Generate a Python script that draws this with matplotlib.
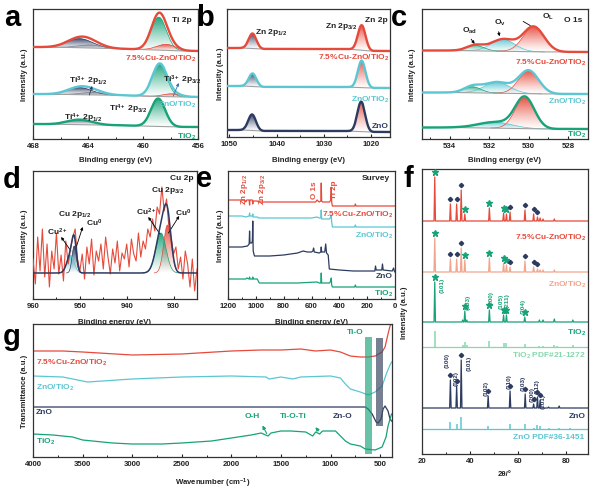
import numpy as np
import matplotlib
matplotlib.use("Agg")
import matplotlib.pyplot as plt
from matplotlib.ticker import MultipleLocator
from matplotlib.colors import to_rgb
from matplotlib.patches import Rectangle

plt.rcParams.update({
    'font.family': ['Liberation Sans', 'DejaVu Sans'],
    'font.weight': 'bold',
    'mathtext.fontset': 'custom',
    'mathtext.rm': 'Liberation Sans:bold',
    'mathtext.it': 'Liberation Sans:bold',
    'mathtext.bf': 'Liberation Sans:bold',
    'mathtext.sf': 'Liberation Sans:bold',
    'mathtext.default': 'rm',
    'axes.linewidth': 0.9,
    'axes.edgecolor': '#333333',
})

# ---------------------------------------------------------------- data
# (a) Ti 2p  -- samples bottom -> top
TI_SAMPLES = ['TiO$_2$', 'ZnO/TiO$_2$', '7.5%Cu-ZnO/TiO$_2$']
TI_BG_X = [468, 465, 461, 459, 457, 456]
TI_BG = [[15, 14.5, 13.5, 12.5, 12, 12],
         [45, 44.5, 43.5, 42.5, 42, 42],
         [92, 91.5, 90, 89, 88, 88]]
TI_COMPONENTS = ['Ti4+ 2p3/2', 'Ti3+ 2p3/2', 'Ti4+ 2p1/2', 'Ti3+ 2p1/2']
TI_CENTERS = [[458.9, 458.0, 464.6, 463.7],
              [458.8, 457.9, 464.6, 463.6],
              [458.85, 458.3, 464.6, 463.8]]
TI_HEIGHTS = [[28, 0, 5, 0],
              [32, 3, 7, 2.5],
              [33, 6, 9, 3]]
TI_FWHM = [[1.2, 1.5, 2.1, 2.0],
           [1.25, 1.5, 2.1, 2.0],
           [1.3, 1.6, 2.2, 2.0]]

# (b) Zn 2p
ZN_SAMPLES = ['ZnO', 'ZnO/TiO$_2$', '7.5%Cu-ZnO/TiO$_2$']
ZN_BG_X = [1050.5, 1047, 1043, 1025, 1020, 1016]
ZN_BG = [[7, 7, 6, 6, 5, 5],
         [51, 51, 50, 50, 49, 49],
         [89, 89, 88, 88, 86, 86]]
ZN_COMPONENTS = ['Zn 2p1/2', 'Zn 2p3/2']
ZN_CENTERS = [[1045.2, 1022.1], [1045.1, 1022.0], [1045.1, 1022.0]]
ZN_HEIGHTS = [[16, 30], [13, 27], [15, 25]]
ZN_FWHM = [[1.9, 1.9], [1.9, 1.9], [1.9, 1.9]]

# (c) O 1s
O_SAMPLES = ['TiO$_2$', 'ZnO/TiO$_2$', '7.5%Cu-ZnO/TiO$_2$']
O_BG_X = [535.4, 533.5, 532, 530.5, 529, 527]
O_BG = [[11.5, 11.5, 11, 10.5, 10, 10],
        [46.5, 46.5, 46, 45.5, 45, 45],
        [88.5, 88.5, 88, 87.5, 87, 87]]
O_COMPONENTS = ['O_L', 'O_v', 'O_ad']
O_CENTERS = [[530.2, 531.7, 532.9], [530.0, 531.6, 532.85], [529.75, 531.3, 532.7]]
O_HEIGHTS = [[31, 6, 0], [23, 11, 6], [25, 12, 5.5]]
O_FWHM = [[1.15, 2.0, 1.0], [1.2, 1.5, 1.0], [1.25, 1.4, 1.0]]

# (d) Cu 2p (raw counts, 960 -> 925 eV, 0.5 eV step) and fit
CU_BE_START, CU_BE_STEP = 960.0, -0.5
CU_COUNTS = [40, 15, 62, 28, 70, 22, 55, 12, 48, 30,
             66, 25, 44, 18, 58, 35, 50, 62, 70, 40,
             28, 45, 20, 52, 35, 60, 24, 48, 38, 55,
             30, 62, 42, 25, 50, 36, 58, 28, 46, 40,
             55, 32, 60, 45, 38, 66, 42, 58, 50, 70,
             62, 80, 68, 92, 85, 112, 88, 100, 72, 60,
             45, 52, 30, 42, 20, 48, 35, 12, 40, 8,
             30]
CU_BG = 26
CU_COMPONENTS = ['Cu0 2p3/2', 'Cu2+ 2p3/2', 'Cu0 2p1/2', 'Cu2+ 2p1/2']
CU_CENTERS = [931.3, 932.7, 951.2, 952.0]
CU_HEIGHTS = [48, 40, 27, 18]
CU_FWHM = [1.9, 2.6, 1.1, 1.8]

# (e) survey spectra (binding energy, intensity)
SV_CU_X = [1200, 1100, 1080, 1072, 1065, 1048, 1045, 1042, 1025, 1022, 1019, 990, 980, 700, 600, 570,
           560, 545, 533, 530, 527, 520, 470, 462, 458, 455, 450, 400, 290, 285, 280, 100, 0]
SV_CU_Y = [99, 99, 99, 97, 99, 99, 94, 99, 99, 95, 98, 98, 97, 97, 97, 97,
           99, 97, 98, 116, 98, 97, 97, 99, 111, 97, 93, 93, 93, 95, 93, 93, 93]
SV_ZT_X = [1200, 1100, 1072, 1048, 1045, 1042, 1025, 1022, 1019, 990, 980, 600, 560, 545, 533, 530,
           527, 470, 462, 458, 455, 450, 290, 285, 280, 0]
SV_ZT_Y = [83, 83, 82, 83, 86, 83, 83, 85, 82, 82, 81, 81, 82, 81, 81, 89,
           80, 80, 82, 84, 77, 72, 72, 74, 72, 72]
SV_ZNO_X = [1200, 1100, 1060, 1048, 1045, 1042, 1030, 1025, 1022, 1019, 1010, 900, 800, 700, 660, 630,
            600, 590, 585, 580, 545, 533, 530, 527, 505, 498, 492, 480, 472, 400, 300, 200, 145,
            140, 135, 95, 90, 85, 20, 10, 5, 0]
SV_ZNO_Y = [52, 52, 53, 55, 68, 56, 56, 58, 78, 48, 43, 43, 44, 46, 48, 47,
            47, 48, 51, 47, 46, 47, 52, 47, 47, 55, 46, 44, 30, 29, 28, 28, 28,
            33, 29, 29, 35, 29, 28, 31, 28, 27]
SV_TIO2_X = [1200, 1100, 1072, 1065, 1048, 1045, 1042, 1025, 1022, 1019, 990, 975, 700, 560, 545, 533,
             530, 527, 470, 462, 458, 455, 450, 290, 285, 280, 0]
SV_TIO2_Y = [20, 20, 20, 21, 20, 22, 20, 20, 22, 20, 20, 16, 16, 17, 16, 16,
             26, 16, 16, 18, 21, 14, 12, 12, 14, 12, 12]

# (f) XRD peak positions (2theta) and heights
XRD_CU_POS = [25.3, 31.8, 34.4, 36.3, 37.8, 48.0, 53.9, 55.1, 56.6, 62.8, 66.4, 68.0, 69.1, 70.3, 75.0]
XRD_CU_H = [44, 17, 17, 31, 7, 13, 8, 7, 9, 11, 7, 4, 3, 2, 2]
XRD_ZT_POS = [25.3, 31.8, 34.4, 36.3, 37.8, 48.0, 53.9, 55.1, 56.6, 62.8, 66.4, 68.0, 69.1, 70.3, 75.0]
XRD_ZT_H = [34, 13, 13, 24, 12, 14, 9, 7, 5, 11, 5, 3, 2, 2, 2]
XRD_TIO2_POS = [25.3, 36.9, 37.8, 38.6, 48.0, 53.9, 55.1, 62.7, 68.8, 70.3, 75.0, 82.7]
XRD_TIO2_H = [40, 2, 11, 2, 12, 7, 7, 5, 2, 2, 3, 2]
PDF_TIO2_POS = [25.3, 36.9, 37.8, 38.6, 48.0, 53.9, 55.1, 62.7, 68.8, 70.3, 75.0, 76.0, 82.7]
PDF_TIO2_H = [16, 2, 5, 2, 6, 4, 4, 3, 1.5, 1.5, 2, 1, 2]
XRD_ZNO_POS = [31.8, 34.4, 36.3, 47.5, 56.6, 62.9, 66.4, 68.0, 69.1, 72.6, 77.0]
XRD_ZNO_H = [28, 22, 48, 12, 17, 14, 4, 11, 8, 1, 2]
PDF_ZNO_POS = [31.8, 34.4, 36.3, 47.5, 56.6, 62.9, 66.4, 68.0, 69.1, 72.6, 77.0, 81.4, 89.6]
PDF_ZNO_H = [7, 5, 12, 3, 5, 5, 1, 4, 3, 1, 1, 1, 1]
ANATASE_MARKS = [25.3, 37.8, 48.0, 53.9, 55.1]
ZNO_MARKS = [31.8, 34.4, 36.3, 56.6, 62.8, 66.4, 68.0]
TIO2_STARS = [25.3, 37.8, 48.0, 53.9, 55.1, 62.7]
TIO2_HKL = ['(101)', '(103)', '(200)', '(105)', '(211)', '(204)']
TIO2_HKL_X = [28.3, 39.2, 48.8, 52.7, 55.4, 62.2]
TIO2_HKL_Y = [170, 153, 157, 154, 154, 149]
ZNO_DIAMONDS = [31.8, 34.4, 36.3, 47.5, 56.6, 62.9, 66.4, 68.0, 69.1]
ZNO_HKL = ['(100)', '(002)', '(101)', '(102)', '(110)', '(103)', '(200)', '(112)', '(201)']
ZNO_HKL_X = [30.4, 34.2, 39.6, 46.7, 56.3, 62.1, 65.8, 67.9, 70.4]
ZNO_HKL_Y = [95, 76, 92, 67, 73, 72, 60, 68, 54]

# (g) FTIR (wavenumber, transmittance)
IR_CU_X = [4000, 3700, 3500, 3000, 2500, 2000, 1700, 1500, 1300, 1150, 1000, 900, 800, 700, 620, 550,
           480, 450, 420, 400, 385]
IR_CU_Y = [106, 106, 105, 102, 103, 106, 107, 107, 108, 106, 107, 105, 101, 100, 100, 101,
           105, 110, 123, 131, 133]
IR_ZT_X = [4000, 3700, 3600, 3450, 3000, 2500, 2000, 1650, 1620, 1500, 1380, 1300, 1000, 900, 850, 800,
           700, 620, 550, 480, 430, 400, 385]
IR_ZT_Y = [81, 80, 78, 75, 78, 80, 81, 80, 78, 80, 78, 80, 81, 79, 73, 68,
           65, 62, 65, 71, 85, 92, 95]
IR_ZNO_X = [4000, 3000, 2000, 1000, 650, 620, 580, 540, 520, 490, 470, 450, 420, 400, 385]
IR_ZNO_Y = [50, 50, 50, 50, 50, 48, 43, 35, 34, 38, 48, 51, 46, 38, 36]
IR_TIO2_X = [4000, 3800, 3600, 3500, 3200, 3000, 2700, 2500, 2200, 2000, 1800, 1700, 1630, 1600, 1500,
             1400, 1250, 1180, 1150, 1110, 1080, 1000, 950, 900, 850, 800, 700, 650, 550, 480, 440,
             420, 400, 385]
IR_TIO2_Y = [23, 22, 20, 17, 14, 13, 13, 14, 16, 19, 22, 24, 21, 24, 26,
             26, 25, 21, 25, 23, 26, 26, 26, 21, 16, 13, 11, 8, 7, 10, 20,
             31, 38, 43]
IR_BANDS = {'Ti-O': (650, 580), 'Zn-O': (540, 470)}

# ---------------------------------------------------------------- style
RED = '#e64a3b'
CYAN = '#5cc6d2'
NAVY = '#2d3b60'
GREEN = '#17a278'
SALMON = '#f2a58c'
LGREEN = '#86d8ae'
GRAY = '#a0a0a0'
DARKGRAY = '#7d8594'

W, H = 591, 489
BOX = {'a': (33, 10, 198, 140), 'b': (227, 10, 390, 138), 'c': (422, 10, 588, 140),
       'd': (33, 172, 197, 300), 'e': (228, 172, 395, 300), 'f': (422, 170, 588, 455),
       'g': (33, 325, 392, 458)}

fig = plt.figure(figsize=(W / 100, H / 100), dpi=100)


def make_ax(k, xlim, major, minor):
    l, t, r, b = BOX[k]
    ax = fig.add_axes([l / W, 1 - b / H, (r - l) / W, (b - t) / H])
    ax.set_ylim(0, b - t)
    ax.set_xlim(*xlim)
    ax.set_yticks([])
    ax.xaxis.set_major_locator(MultipleLocator(major))
    ax.xaxis.set_minor_locator(MultipleLocator(minor))
    ax.tick_params(axis='x', which='major', direction='in', length=2.5, width=0.8,
                   labelsize=5.6, pad=2.5, colors='#222222')
    ax.tick_params(axis='x', which='minor', direction='in', length=1.6, width=0.6)
    for lab in ax.get_xticklabels():
        lab.set_fontweight('bold')
    return ax


def P(k, px, py):
    l, t, r, b = BOX[k]
    return ((px - l) / (r - l), (b - py) / (b - t))


def txt(ax, k, px, py, s, color='#222222', size=6.0, ha='center', va='center', **kw):
    ax.text(*P(k, px, py), s, transform=ax.transAxes, color=color, fontsize=size,
            fontweight='bold', ha=ha, va=va, **kw)


def labels(ax, k, xl, xl_py, yl, yl_px):
    l, t, r, b = BOX[k]
    txt(ax, k, (l + r) / 2, xl_py, xl, size=5.6, clip_on=False)
    txt(ax, k, yl_px, (t + b) / 2, yl, size=5.6, rotation=90, clip_on=False)


def gauss(x, c, h, w):
    return h * np.exp(-4 * np.log(2) * (x - c) ** 2 / w ** 2)


def grad_fill(ax, x, y0, y1, color, z, amax=0.95):
    d = y1 - y0
    m = d > 2e-3 * d.max()
    xs, a, b = x[m], y0[m], y1[m]
    poly = ax.fill_between(xs, a, b, facecolor='none', edgecolor='none', zorder=z)
    n = 256
    arr = np.ones((n, 2, 4))
    arr[..., :3] = to_rgb(color)
    arr[..., 3] = (np.linspace(0, 1, n) ** 1.2 * amax)[:, None]
    im = ax.imshow(arr, extent=[xs.min(), xs.max(), a.min(), b.max()], origin='lower',
                   aspect='auto', zorder=z, interpolation='bilinear')
    im.set_clip_path(poly.get_paths()[0], transform=ax.transData)
    ax.plot(xs, b, color=color, lw=0.5, zorder=z + 0.1)


def xps_panel(ax, xlim, bg_x, bgs, centers, heights, fwhms, comp_colors, line_colors):
    lo, hi = min(xlim), max(xlim)
    x = np.linspace(lo, hi, 900)
    for i in range(len(bgs)):
        bg = np.interp(x, bg_x[::-1], bgs[i][::-1])
        total = bg.copy()
        for j in range(len(centers[i])):
            if heights[i][j] <= 0:
                continue
            comp = gauss(x, centers[i][j], heights[i][j], fwhms[i][j])
            grad_fill(ax, x, bg, bg + comp, comp_colors[j], 2)
            total = total + comp
        ax.plot(x, bg, color=GRAY, lw=0.8, zorder=2.6)
        ax.plot(x, total, color=line_colors[i], lw=1.7, zorder=3)
    ax.set_xlim(*xlim)
    ax.set_ylim(0, BOX_H(ax))


def BOX_H(ax):
    return ax._boxh


def arrow(ax, xy_from, xy_to, color='black', lw=0.6):
    ax.annotate('', xy=xy_to, xytext=xy_from,
                arrowprops=dict(arrowstyle='-|>', color=color, lw=lw,
                                mutation_scale=4, shrinkA=0, shrinkB=0))


# ---------------------------------------------------------------- (a)
ax = make_ax('a', (468, 456), 4, 2)
ax._boxh = 130
xps_panel(ax, (468, 456), TI_BG_X, TI_BG, TI_CENTERS, TI_HEIGHTS, TI_FWHM,
          [GREEN, RED, NAVY, DARKGRAY], [GREEN, CYAN, RED])
txt(ax, 'a', 182, 20, 'Ti 2p')
txt(ax, 'a', 196, 59, TI_SAMPLES[2], RED, ha='right')
txt(ax, 'a', 196, 105, TI_SAMPLES[1], CYAN, ha='right')
txt(ax, 'a', 196, 137, TI_SAMPLES[0], GREEN, ha='right')
txt(ax, 'a', 88, 81, 'Ti$^{3+}$ 2p$_{1/2}$')
txt(ax, 'a', 182, 80, 'Ti$^{3+}$ 2p$_{3/2}$')
txt(ax, 'a', 128, 109, 'Ti$^{4+}$ 2p$_{3/2}$')
txt(ax, 'a', 83, 118, 'Ti$^{4+}$ 2p$_{1/2}$')
arrow(ax, (463.9, 44), (463.7, 53), color=NAVY)
arrow(ax, (457.8, 43), (457.4, 56), color='#3a6fb0')
labels(ax, 'a', 'Binding energy (eV)', 161, 'Intensity (a.u.)', 25)

# ---------------------------------------------------------------- (b)
ax = make_ax('b', (1050.5, 1016), 10, 5)
ax._boxh = 128
xps_panel(ax, (1050.5, 1016), ZN_BG_X, ZN_BG, ZN_CENTERS, ZN_HEIGHTS, ZN_FWHM,
          [NAVY, RED], [NAVY, CYAN, RED])
txt(ax, 'b', 388, 20, 'Zn 2p', ha='right')
txt(ax, 'b', 341, 27, 'Zn 2p$_{3/2}$')
txt(ax, 'b', 271, 32, 'Zn 2p$_{1/2}$')
txt(ax, 'b', 389, 58, ZN_SAMPLES[2], RED, ha='right')
txt(ax, 'b', 389, 100, ZN_SAMPLES[1], CYAN, ha='right')
txt(ax, 'b', 389, 127, ZN_SAMPLES[0], NAVY, ha='right')
labels(ax, 'b', 'Binding energy (eV)', 161, 'Intensity (a.u.)', 220)

# ---------------------------------------------------------------- (c)
ax = make_ax('c', (535.4, 527.0), 2, 1)
ax._boxh = 130
xps_panel(ax, (535.4, 527.0), O_BG_X, O_BG, O_CENTERS, O_HEIGHTS, O_FWHM,
          [RED, CYAN, GREEN], [GREEN, CYAN, RED])
txt(ax, 'c', 582, 20, 'O 1s', ha='right')
txt(ax, 'c', 548, 17, 'O$_L$')
txt(ax, 'c', 500, 23, 'O$_v$')
txt(ax, 'c', 470, 31, 'O$_{ad}$')
ax.annotate('', xy=(529.8, 112), xytext=(530.4, 119),
            arrowprops=dict(arrowstyle='-', color='black', lw=0.6))
ax.annotate('', xy=(531.45, 100), xytext=(531.55, 110),
            arrowprops=dict(arrowstyle='-|>', color='black', lw=0.6, mutation_scale=4))
ax.annotate('', xy=(532.65, 93), xytext=(533.0, 102),
            arrowprops=dict(arrowstyle='-|>', color='black', lw=0.6, mutation_scale=4))
txt(ax, 'c', 586, 63, O_SAMPLES[2], RED, ha='right')
txt(ax, 'c', 586, 102, O_SAMPLES[1], CYAN, ha='right')
txt(ax, 'c', 586, 135, O_SAMPLES[0], GREEN, ha='right')
labels(ax, 'c', 'Binding energy (eV)', 161, 'Intensity (a.u.)', 413)

# ---------------------------------------------------------------- (d)
ax = make_ax('d', (960, 925), 10, 5)
cu_x = CU_BE_START + CU_BE_STEP * np.arange(len(CU_COUNTS))
x = np.linspace(925, 960, 900)
bg = np.full_like(x, CU_BG)
env = bg.copy()
for c, h, w, col in zip(CU_CENTERS, CU_HEIGHTS, CU_FWHM, [RED, GREEN, NAVY, CYAN]):
    comp = gauss(x, c, h, w)
    grad_fill(ax, x, bg, bg + comp, col, 2)
    env = env + comp
ax.plot(cu_x, CU_COUNTS, color=RED, lw=0.8, zorder=3)
ax.plot(x, env, color=NAVY, lw=1.1, zorder=4)
ax.set_xlim(960, 925)
ax.set_ylim(0, 128)
txt(ax, 'd', 194, 178, 'Cu 2p', ha='right')
txt(ax, 'd', 168, 190, 'Cu 2p$_{3/2}$')
txt(ax, 'd', 75, 215, 'Cu 2p$_{1/2}$')
txt(ax, 'd', 57, 232, 'Cu$^{2+}$')
txt(ax, 'd', 94, 223, 'Cu$^{0}$')
txt(ax, 'd', 146, 212, 'Cu$^{2+}$')
txt(ax, 'd', 183, 213, 'Cu$^{0}$')
arrow(ax, (951.9, 48), (954.0, 62))
arrow(ax, (950.9, 50), (949.4, 72))
arrow(ax, (932.9, 65), (935.4, 82))
arrow(ax, (931.1, 66), (928.8, 83))
labels(ax, 'd', 'Binding energy (eV)', 322, 'Intensity (a.u.)', 25)

# ---------------------------------------------------------------- (e)
ax = make_ax('e', (1200, 0), 200, 100)
ax.plot(SV_CU_X, SV_CU_Y, color=RED, lw=0.9)
ax.plot(SV_ZT_X, SV_ZT_Y, color=CYAN, lw=0.9)
ax.plot(SV_ZNO_X, SV_ZNO_Y, color=NAVY, lw=0.9)
ax.plot(SV_TIO2_X, SV_TIO2_Y, color=GREEN, lw=0.9)
ax.set_xlim(1200, 0)
ax.set_ylim(0, 128)
txt(ax, 'e', 390, 179, 'Survey', ha='right')
txt(ax, 'e', 245, 189, 'Zn 2p$_{1/2}$', RED, size=5.8, rotation=90)
txt(ax, 'e', 263, 189, 'Zn 2p$_{3/2}$', RED, size=5.8, rotation=90)
txt(ax, 'e', 314, 190, 'O 1s', RED, size=5.8, rotation=90)
txt(ax, 'e', 334, 190, 'Ti 2p', RED, size=5.8, rotation=90)
txt(ax, 'e', 393, 215, '7.5%Cu-ZnO/TiO$_2$', RED, ha='right')
txt(ax, 'e', 393, 236, 'ZnO/TiO$_2$', CYAN, ha='right')
txt(ax, 'e', 393, 277, 'ZnO', NAVY, ha='right')
txt(ax, 'e', 393, 294, 'TiO$_2$', GREEN, ha='right')
labels(ax, 'e', 'Binding energy (eV)', 322, 'Intensity (a.u.)', 220)

# ---------------------------------------------------------------- (f)
ax = make_ax('f', (20, 89), 20, 10)


def pattern(pos, h, base, w=0.3):
    xs, ys = [20], [base]
    for p, hh in sorted(zip(pos, h)):
        xs += [p - w, p, p + w]
        ys += [base, base + hh, base]
    xs.append(90)
    ys.append(base)
    return xs, ys


def marks(ax, pos_all, h_all, base, sel, marker, color, ms):
    for p in sel:
        hh = h_all[pos_all.index(p)]
        ax.plot([p], [base + hh + 5], marker=marker, color=color, ms=ms, mec=color, zorder=5)


ax.plot(*pattern(XRD_CU_POS, XRD_CU_H, 233), color=RED, lw=0.9)
marks(ax, XRD_CU_POS, XRD_CU_H, 233, ANATASE_MARKS, '*', GREEN, 4.5)
marks(ax, XRD_CU_POS, XRD_CU_H, 233, ZNO_MARKS, 'D', NAVY, 2.2)
ax.plot(*pattern(XRD_ZT_POS, XRD_ZT_H, 182), color=SALMON, lw=0.9)
marks(ax, XRD_ZT_POS, XRD_ZT_H, 182, ANATASE_MARKS, '*', GREEN, 4.5)
marks(ax, XRD_ZT_POS, XRD_ZT_H, 182, ZNO_MARKS, 'D', NAVY, 2.2)
ax.plot(*pattern(XRD_TIO2_POS, XRD_TIO2_H, 132), color=GREEN, lw=0.9)
marks(ax, XRD_TIO2_POS, XRD_TIO2_H, 132, TIO2_STARS, '*', GREEN, 4.5)
for s, xx, yy in zip(TIO2_HKL, TIO2_HKL_X, TIO2_HKL_Y):
    ax.text(xx, yy, s, color=GREEN, fontsize=4.6, fontweight='bold', rotation=90,
            ha='center', va='center')
ax.hlines(107, 20, 90, color=LGREEN, lw=0.9)
ax.vlines(PDF_TIO2_POS, 107, np.add(107, PDF_TIO2_H), color=LGREEN, lw=1.1)
ax.plot(*pattern(XRD_ZNO_POS, XRD_ZNO_H, 46), color=NAVY, lw=0.9)
marks(ax, XRD_ZNO_POS, XRD_ZNO_H, 46, ZNO_DIAMONDS, 'D', NAVY, 2.2)
for s, xx, yy in zip(ZNO_HKL, ZNO_HKL_X, ZNO_HKL_Y):
    ax.text(xx, yy, s, color=NAVY, fontsize=4.6, fontweight='bold', rotation=90,
            ha='center', va='center')
ax.hlines(25, 20, 90, color=CYAN, lw=0.9)
ax.vlines(PDF_ZNO_POS, 25, np.add(25, PDF_ZNO_H), color=CYAN, lw=1.1)
ax.set_xlim(20, 89)
ax.set_ylim(0, 285)
txt(ax, 'f', 586, 238, '7.5%Cu-ZnO/TiO$_2$', RED, ha='right')
txt(ax, 'f', 586, 285, 'ZnO/TiO$_2$', SALMON, ha='right')
txt(ax, 'f', 586, 333, 'TiO$_2$', GREEN, ha='right')
txt(ax, 'f', 586, 356, 'TiO$_2$ PDF#21-1272', LGREEN, ha='right')
txt(ax, 'f', 586, 417, 'ZnO', NAVY, ha='right')
txt(ax, 'f', 584, 438, 'ZnO PDF#36-1451', CYAN, ha='right')
labels(ax, 'f', '2θ/°', 475, 'Intensity (a.u.)', 405)

# ---------------------------------------------------------------- (g)
ax = make_ax('g', (4000, 380), 500, 250)
ax.plot(IR_CU_X, IR_CU_Y, color=RED, lw=0.9)
ax.plot(IR_ZT_X, IR_ZT_Y, color=CYAN, lw=0.9)
ax.plot(IR_ZNO_X, IR_ZNO_Y, color=NAVY, lw=0.9)
ax.plot(IR_TIO2_X, IR_TIO2_Y, color=GREEN, lw=0.9)
x0, x1 = IR_BANDS['Ti-O']
ax.add_patch(Rectangle((x1, 3), x0 - x1, 117, color=GREEN, alpha=0.65, lw=0, zorder=3))
x0, x1 = IR_BANDS['Zn-O']
ax.add_patch(Rectangle((x1, 31), x0 - x1, 88, color='#3e4a66', alpha=0.7, lw=0, zorder=3))
ax.set_xlim(4000, 380)
ax.set_ylim(0, 133)
txt(ax, 'g', 355, 333, 'Ti-O', GREEN)
txt(ax, 'g', 252, 417, 'O-H', GREEN)
txt(ax, 'g', 293, 417, 'Ti-O-Ti', GREEN)
txt(ax, 'g', 343, 417, 'Zn-O', NAVY)
ax.annotate('', xy=(1700, 34), xytext=(1630, 21),
            arrowprops=dict(arrowstyle='-|>', color=GREEN, lw=0.8, mutation_scale=5))
ax.annotate('', xy=(1170, 32), xytext=(1105, 24),
            arrowprops=dict(arrowstyle='-|>', color=GREEN, lw=0.8, mutation_scale=5))
txt(ax, 'g', 36, 363, '7.5%Cu-ZnO/TiO$_2$', RED, ha='left')
txt(ax, 'g', 36, 388, 'ZnO/TiO$_2$', CYAN, ha='left')
txt(ax, 'g', 36, 413, 'ZnO', NAVY, ha='left')
txt(ax, 'g', 36, 442, 'TiO$_2$', GREEN, ha='left')
labels(ax, 'g', 'Wavenumber (cm$^{-1}$)', 483, 'Transmittance (a.u.)', 25)

# ---------------------------------------------------------------- panel letters
for ch, px, py in [('a', 4, 26), ('b', 196, 26), ('c', 391, 26), ('d', 3, 188),
                   ('e', 196, 187), ('f', 403, 187), ('g', 3, 345)]:
    fig.text(px / W, 1 - py / H, ch, fontsize=21, fontweight='bold', ha='left',
             va='baseline', color='black')

fig.savefig('out.png', dpi=100)
